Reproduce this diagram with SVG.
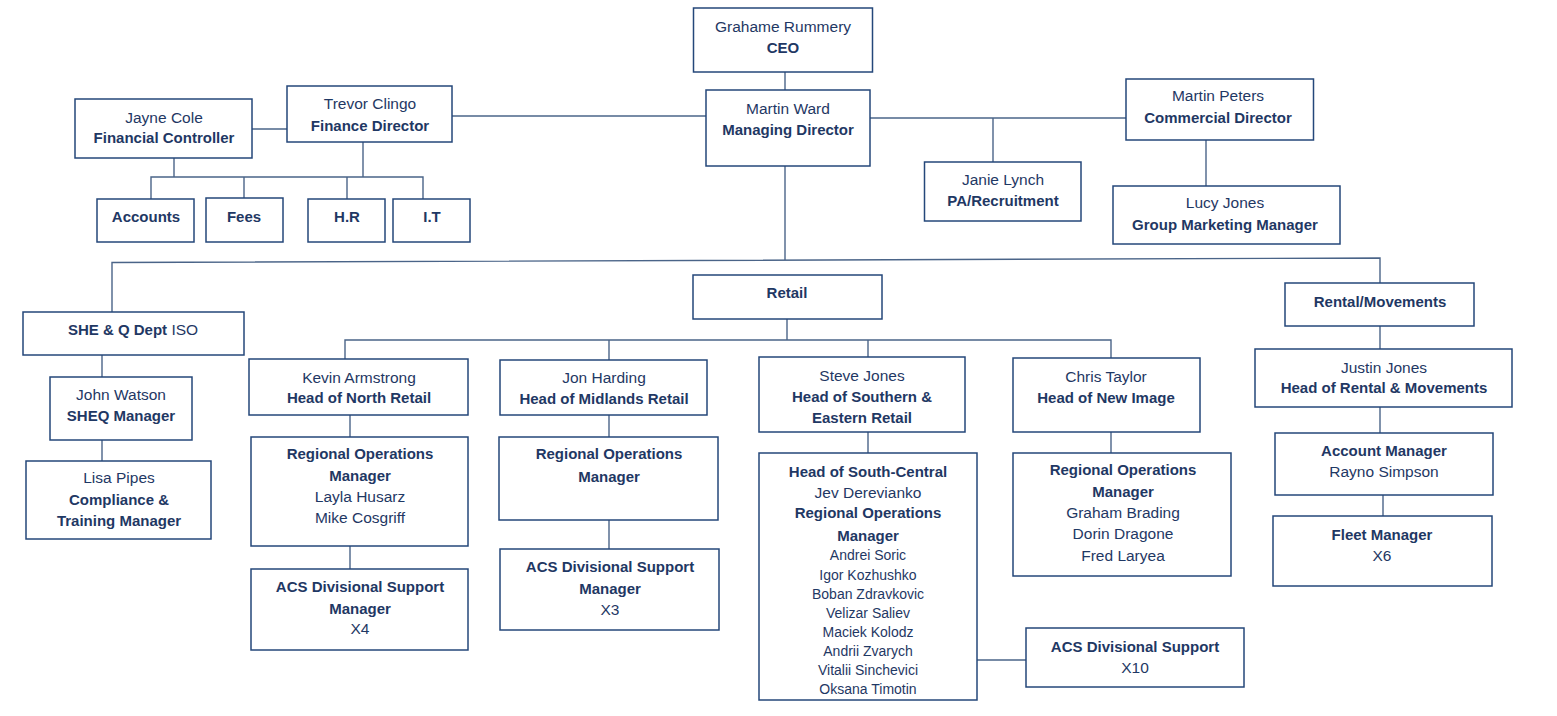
<svg xmlns="http://www.w3.org/2000/svg" width="1557" height="716" viewBox="0 0 1557 716">
<style>
.box{fill:#fff;stroke:#24477A;stroke-width:1.5}
.ln{stroke:#4A6488;stroke-width:1.4;fill:none}
text{font-family:"Liberation Sans",Arial,sans-serif;fill:#1F3864;text-anchor:middle;dominant-baseline:central}
.r{font-size:15.5px}
.b{font-size:15px;font-weight:bold}
.s{font-size:14px}
</style>
<rect width="1557" height="716" fill="#fff"/>
<g id="connectors">
<line class="ln" x1="785" y1="72" x2="785" y2="90"/>
<line class="ln" x1="785" y1="166" x2="785" y2="260"/>
<line class="ln" x1="452" y1="116" x2="706" y2="116"/>
<line class="ln" x1="870" y1="118" x2="1126" y2="118"/>
<line class="ln" x1="993" y1="118" x2="993" y2="162"/>
<line class="ln" x1="1206" y1="140" x2="1206" y2="186"/>
<line class="ln" x1="252" y1="129" x2="287" y2="129"/>
<line class="ln" x1="174" y1="158" x2="174" y2="177"/>
<line class="ln" x1="363" y1="142" x2="363" y2="177"/>
<polyline class="ln" points="151,199 151,177 423,177 423,199"/>
<line class="ln" x1="244" y1="177" x2="244" y2="198"/>
<line class="ln" x1="347" y1="177" x2="347" y2="199"/>
<polyline class="ln" points="112,312 112,262.5 1380,258 1380,283"/>
<line class="ln" x1="102" y1="355" x2="102" y2="377"/>
<line class="ln" x1="102" y1="440" x2="102" y2="461"/>
<line class="ln" x1="787" y1="319" x2="787" y2="340"/>
<polyline class="ln" points="345,359 345,340 1111,340 1111,358"/>
<line class="ln" x1="609" y1="340" x2="609" y2="360"/>
<line class="ln" x1="868" y1="340" x2="868" y2="357"/>
<line class="ln" x1="350" y1="415" x2="350" y2="437"/>
<line class="ln" x1="350" y1="546" x2="350" y2="569"/>
<line class="ln" x1="609" y1="415" x2="609" y2="437"/>
<line class="ln" x1="609" y1="520" x2="609" y2="549"/>
<line class="ln" x1="868" y1="432" x2="868" y2="453"/>
<line class="ln" x1="1111" y1="432" x2="1111" y2="453"/>
<line class="ln" x1="977" y1="660" x2="1026" y2="660"/>
<line class="ln" x1="1380" y1="326" x2="1380" y2="349"/>
<line class="ln" x1="1380" y1="407" x2="1380" y2="433"/>
<line class="ln" x1="1383" y1="495" x2="1383" y2="516"/>
</g>
<g id="ceo"><rect class="box" x="693.5" y="8" width="179" height="64"/>
<text class="r" x="783" y="26.5">Grahame Rummery</text><text class="b" x="783" y="47.5">CEO</text></g>
<g id="md"><rect class="box" x="706" y="90" width="164" height="76"/>
<text class="r" x="788" y="108.5">Martin Ward</text><text class="b" x="788" y="129.5">Managing Director</text></g>
<g id="fd"><rect class="box" x="287" y="86" width="165" height="56"/>
<text class="r" x="370" y="103.5">Trevor Clingo</text><text class="b" x="370" y="125.5">Finance Director</text></g>
<g id="fc"><rect class="box" x="75" y="99" width="177" height="59"/>
<text class="r" x="164" y="117.5">Jayne Cole</text><text class="b" x="164" y="137.5">Financial Controller</text></g>
<g id="accounts"><rect class="box" x="97" y="199" width="97" height="43"/><text class="b" x="146" y="216.5">Accounts</text></g>
<g id="fees"><rect class="box" x="206" y="198" width="77" height="44"/><text class="b" x="244" y="216.5">Fees</text></g>
<g id="hr"><rect class="box" x="308" y="199" width="77" height="43"/><text class="b" x="347" y="216.5">H.R</text></g>
<g id="it"><rect class="box" x="393" y="199" width="77" height="43"/><text class="b" x="432" y="216.5">I.T</text></g>
<g id="cd"><rect class="box" x="1126" y="79" width="187.5" height="61"/>
<text class="r" x="1218" y="95.5">Martin Peters</text><text class="b" x="1218" y="117.5">Commercial Director</text></g>
<g id="pa"><rect class="box" x="924.5" y="162" width="156.5" height="59"/>
<text class="r" x="1003" y="179.5">Janie Lynch</text><text class="b" x="1003" y="200.5">PA/Recruitment</text></g>
<g id="gmm"><rect class="box" x="1113" y="186" width="227" height="58"/>
<text class="r" x="1225" y="202.5">Lucy Jones</text><text class="b" x="1225" y="224.5">Group Marketing Manager</text></g>
<g id="sheq-dept"><rect class="box" x="23" y="312" width="221" height="43"/>
<text x="133" y="328.5"><tspan class="b">SHE &amp; Q Dept</tspan><tspan class="r"> ISO</tspan></text></g>
<g id="sheq-mgr"><rect class="box" x="50" y="377" width="142" height="63"/>
<text class="r" x="121" y="394.5">John Watson</text><text class="b" x="121" y="415.5">SHEQ Manager</text></g>
<g id="compliance"><rect class="box" x="26" y="461" width="185" height="78"/>
<text class="r" x="119" y="477.5">Lisa Pipes</text><text class="b" x="119" y="499.5">Compliance &amp;</text><text class="b" x="119" y="520.5">Training Manager</text></g>
<g id="retail"><rect class="box" x="693" y="275" width="189" height="44"/><text class="b" x="787" y="292.5">Retail</text></g>
<g id="rental"><rect class="box" x="1285" y="283" width="189" height="43"/><text class="b" x="1380" y="301.5">Rental/Movements</text></g>
<g id="north"><rect class="box" x="249" y="359" width="219" height="56"/>
<text class="r" x="359" y="377.5">Kevin Armstrong</text><text class="b" x="359" y="397.5">Head of North Retail</text></g>
<g id="north-rom"><rect class="box" x="251" y="437" width="217" height="109"/>
<text class="b" x="360" y="453.5">Regional Operations</text><text class="b" x="360" y="475.5">Manager</text>
<text class="r" x="360" y="496.5">Layla Husarz</text><text class="r" x="360" y="517.5">Mike Cosgriff</text></g>
<g id="north-acs"><rect class="box" x="251" y="569" width="217" height="81"/>
<text class="b" x="360" y="586.5">ACS Divisional Support</text><text class="b" x="360" y="608.5">Manager</text><text class="r" x="360" y="628.5">X4</text></g>
<g id="midlands"><rect class="box" x="500" y="360" width="207" height="55"/>
<text class="r" x="604" y="377.5">Jon Harding</text><text class="b" x="604" y="398.5">Head of Midlands Retail</text></g>
<g id="midlands-rom"><rect class="box" x="499" y="437" width="219" height="83"/>
<text class="b" x="609" y="453.5">Regional Operations</text><text class="b" x="609" y="476.5">Manager</text></g>
<g id="midlands-acs"><rect class="box" x="500" y="549" width="219" height="81"/>
<text class="b" x="610" y="566.5">ACS Divisional Support</text><text class="b" x="610" y="588.5">Manager</text><text class="r" x="610" y="609.5">X3</text></g>
<g id="southern"><rect class="box" x="759" y="357" width="206" height="75"/>
<text class="r" x="862" y="375.5">Steve Jones</text><text class="b" x="862" y="396.5">Head of Southern &amp;</text><text class="b" x="862" y="417.5">Eastern Retail</text></g>
<g id="south-central"><rect class="box" x="759" y="453" width="218" height="247"/>
<text class="b" x="868" y="471.5">Head of South-Central</text>
<text class="r" x="868" y="492.5">Jev Derevianko</text>
<text class="b" x="868" y="512.5">Regional Operations</text>
<text class="b" x="868" y="535.5">Manager</text>
<text class="s" x="868" y="554.5">Andrei Soric</text>
<text class="s" x="868" y="574.5">Igor Kozhushko</text>
<text class="s" x="868" y="593.5">Boban Zdravkovic</text>
<text class="s" x="868" y="612.5">Velizar Saliev</text>
<text class="s" x="868" y="631.5">Maciek Kolodz</text>
<text class="s" x="868" y="650.5">Andrii Zvarych</text>
<text class="s" x="868" y="669.5">Vitalii Sinchevici</text>
<text class="s" x="868" y="688.5">Oksana Timotin</text></g>
<g id="south-acs"><rect class="box" x="1026" y="628" width="218" height="59"/>
<text class="b" x="1135" y="646.5">ACS Divisional Support</text><text class="r" x="1135" y="667.5">X10</text></g>
<g id="newimage"><rect class="box" x="1013" y="358" width="187" height="74"/>
<text class="r" x="1106" y="376.5">Chris Taylor</text><text class="b" x="1106" y="397.5">Head of New Image</text></g>
<g id="newimage-rom"><rect class="box" x="1013" y="453" width="218" height="123"/>
<text class="b" x="1123" y="469.5">Regional Operations</text><text class="b" x="1123" y="491.5">Manager</text>
<text class="r" x="1123" y="512.5">Graham Brading</text><text class="r" x="1123" y="533.5">Dorin Dragone</text><text class="r" x="1123" y="555.5">Fred Laryea</text></g>
<g id="rental-head"><rect class="box" x="1255" y="349" width="257" height="58"/>
<text class="r" x="1384" y="367.5">Justin Jones</text><text class="b" x="1384" y="387.5">Head of Rental &amp; Movements</text></g>
<g id="account-mgr"><rect class="box" x="1275" y="433" width="218" height="62"/>
<text class="b" x="1384" y="450.5">Account Manager</text><text class="r" x="1384" y="471.5">Rayno Simpson</text></g>
<g id="fleet-mgr"><rect class="box" x="1273" y="516" width="219" height="70"/>
<text class="b" x="1382" y="534.5">Fleet Manager</text><text class="r" x="1382" y="555.5">X6</text></g>
</svg>
